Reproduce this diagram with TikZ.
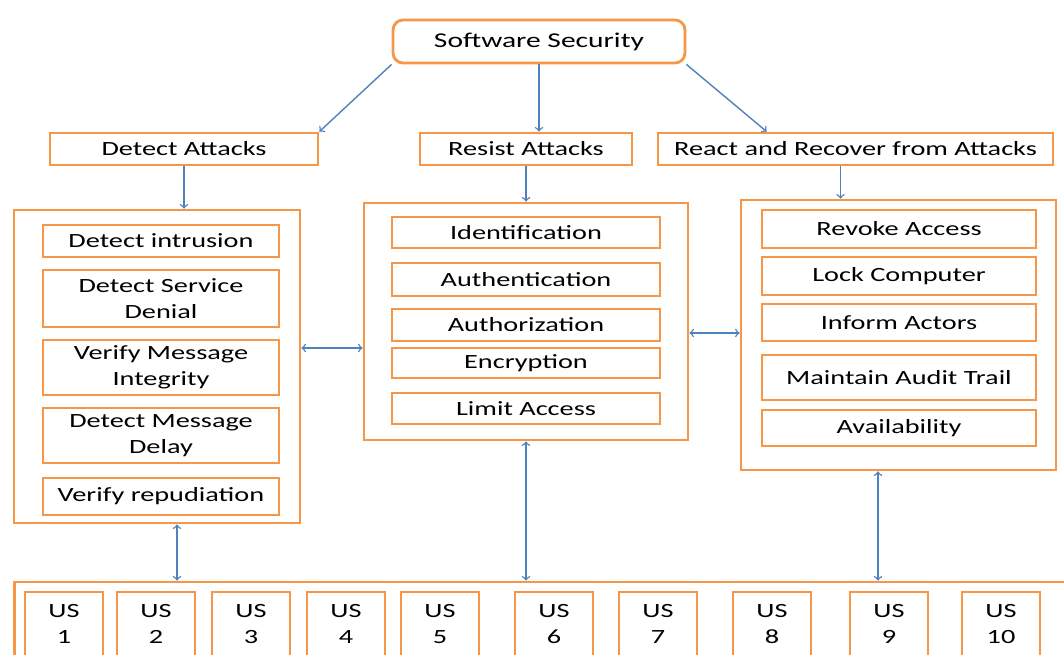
\documentclass[tikz,border=0pt]{standalone}
\usepackage{fontspec}
\setmainfont{Carlito}[FakeStretch=1.4]
\usetikzlibrary{calc}
\definecolor{boxorange}{RGB}{247,150,70}
\definecolor{arrowblue}{RGB}{79,129,189}

\begin{document}
\begin{tikzpicture}[x=0.02cm, y=-0.02cm,
  box/.style={draw=boxorange, line width=1.6pt, inner sep=0pt, align=center, font=\fontsize{11.5}{15}\selectfont},
  frame/.style={draw=boxorange, line width=1.6pt, inner sep=0pt},
  arr/.style={->, draw=arrowblue, line width=0.8pt},
  darr/.style={<->, draw=arrowblue, line width=0.8pt}]
\useasboundingbox (0,0) rectangle (1064,655);
\clip (0,0) rectangle (1064,655);

% top level
\node[box, rounded corners=0.2cm, minimum width=5.84cm, minimum height=0.86cm, font=\fontsize{12}{15}\selectfont] (top) at (539,41.5) {Software Security};
\node[box, minimum width=5.36cm, minimum height=0.64cm] (det) at (184,149) {Detect Attacks};
\node[box, minimum width=4.24cm, minimum height=0.64cm] (res) at (526,149) {Resist Attacks};
\node[box, minimum width=7.9cm, minimum height=0.64cm] (rea) at (855.5,149) {React and Recover from Attacks};

% containers
\node[frame, minimum width=5.72cm, minimum height=6.26cm] (L) at (157,366.5) {};
\node[frame, minimum width=6.48cm, minimum height=4.74cm] (M) at (526,321.5) {};
\node[frame, minimum width=6.3cm, minimum height=5.4cm] (R) at (898.5,335) {};
\node[frame, minimum width=21.32cm, minimum height=1.96cm] (B) at (547,631) {};

% detect
\node[box, minimum width=4.72cm, minimum height=0.64cm] (d1) at (161,241) {Detect intrusion};
\node[box, minimum width=4.72cm, minimum height=1.14cm] (d2) at (161,298.5) {Detect Service\\Denial};
\node[box, minimum width=4.72cm, minimum height=1.1cm] (d3) at (161,367.5) {Verify Message\\Integrity};
\node[box, minimum width=4.72cm, minimum height=1.1cm] (d4) at (161,435.5) {Detect Message\\Delay};
\node[box, minimum width=4.72cm, minimum height=0.74cm] (d5) at (161,496.5) {Verify repudiation};

% resist
\node[box, minimum width=5.36cm, minimum height=0.62cm] (r1) at (526,232.5) {Identification};
\node[box, minimum width=5.36cm, minimum height=0.66cm] (r2) at (526,279.5) {Authentication};
\node[box, minimum width=5.36cm, minimum height=0.64cm] (r3) at (526,325) {Authorization};
\node[box, minimum width=5.36cm, minimum height=0.6cm] (r4) at (526,363) {Encryption};
\node[box, minimum width=5.36cm, minimum height=0.62cm] (r5) at (526,408.5) {Limit Access};

% react
\node[box, minimum width=5.48cm, minimum height=0.76cm] (v1) at (899,229) {Revoke Access};
\node[box, minimum width=5.48cm, minimum height=0.76cm] (v2) at (899,276) {Lock Computer};
\node[box, minimum width=5.48cm, minimum height=0.74cm] (v3) at (899,322.5) {Inform Actors};
\node[box, minimum width=5.48cm, minimum height=0.9cm] (v4) at (899,377.5) {Maintain Audit Trail};
\node[box, minimum width=5.48cm, minimum height=0.72cm] (v5) at (899,428) {Availability};

% user stories
\foreach \i/\x in {1/64,2/156,3/251,4/346,5/440,6/554,7/658,8/772,9/889,10/1001}
  \node[box, minimum width=1.56cm, minimum height=1.28cm] (us\i) at (\x,624) {US\\\i};

% arrows
\coordinate (topR) at ($(rea.north west)+(110,0)$);
\coordinate (reaS) at ($(rea.south)+(-15,0)$);
\draw[arr] (top.south west) -- (det.north east);
\draw[arr] (top.south) -- (top.south |- res.north);
\draw[arr] (top.south east) -- (topR);
\draw[arr] (det.south) -- (det.south |- L.north);
\draw[arr] (res.south) -- (M.north);
\draw[arr] (reaS) -- (reaS |- R.north);
\draw[darr] ([yshift=0.37cm]L.east) -- ([yshift=0.37cm]L.east -| M.west);
\draw[darr] ([yshift=-0.23cm]M.east) -- ([yshift=-0.23cm]M.east -| R.west);
\draw[darr] ([xshift=0.4cm]L.south) -- ([xshift=0.4cm]L.south |- B.north);
\draw[darr] (M.south) -- (M.south |- B.north);
\draw[darr] ([xshift=-0.41cm]R.south) -- ([xshift=-0.41cm]R.south |- B.north);
\end{tikzpicture}
\end{document}
